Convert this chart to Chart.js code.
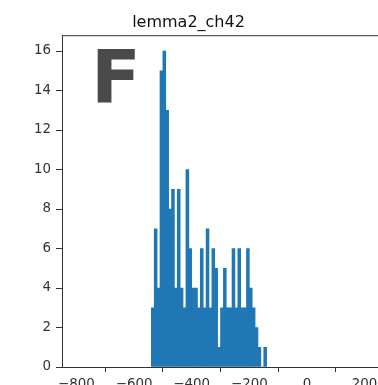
<!DOCTYPE html>
<html>
<head>
<meta charset="utf-8">
<script src="https://cdn.jsdelivr.net/npm/chart.js@4.4.1/dist/chart.umd.min.js"></script>
<style>
  html, body { margin: 0; padding: 0; background: #fff; overflow: hidden; }
  #wrap { position: relative; width: 378px; height: 385px; }
</style>
</head>
<body>
<div id="wrap"><canvas id="hist"></canvas></div>
<script>
// histogram bins: left edges (width 10) and counts
const binStart = -540;
const binWidth = 10;
const counts = [3, 7, 4, 15, 16, 13, 8, 9, 4, 9,
                4, 3, 10, 6, 4, 4, 3, 6, 3, 7,
                3, 6, 5, 1, 3, 5, 3, 3, 6, 3,
                6, 3, 3, 6, 4, 3, 2, 1, 0, 1];
const xTicks = [-800, -600, -400, -200, 0, 200];
const yTicks = [0, 2, 4, 6, 8, 10, 12, 14, 16];
const title = "lemma2_ch42";
const panelLetter = "F";

const points = counts.map((c, i) => ({ x: binStart + binWidth * (i + 0.5), y: c }));

const fmt = v => (v < 0 ? "\u2212" + Math.abs(v) : String(v));
const tickFont = { family: "DejaVu Sans", size: 13.4 };

// top spine and the panel letter (right spine falls at the picture edge)
const extras = {
  id: "extras",
  afterDraw(chart) {
    const { ctx, chartArea: a } = chart;
    ctx.save();
    ctx.strokeStyle = "#333";
    ctx.lineWidth = 1;
    ctx.beginPath();
    ctx.moveTo(a.left, a.top + 0.5);
    ctx.lineTo(a.right + 2, a.top + 0.5);
    ctx.stroke();
    ctx.fillStyle = "#4a4a4a";
    ctx.font = "bold 73px 'DejaVu Sans'";
    ctx.textBaseline = "alphabetic";
    ctx.fillText(panelLetter, 91, 103);
    ctx.restore();
  }
};

new Chart(document.getElementById("hist"), {
  type: "bar",
  data: {
    datasets: [{
      data: points,
      backgroundColor: "#1f77b4",
      borderWidth: 0,
      barPercentage: 1,
      categoryPercentage: 1
    }]
  },
  options: {
    responsive: true,
    maintainAspectRatio: false,
    animation: false,
    layout: { padding: { left: 0, right: 1, top: 0, bottom: 0 } },
    plugins: {
      legend: { display: false },
      tooltip: { enabled: false },
      title: {
        display: true,
        text: title,
        color: "#111",
        font: { family: "DejaVu Sans", size: 16, weight: "normal" },
        padding: { top: 13, bottom: 3 }
      }
    },
    scales: {
      x: {
        type: "linear",
        min: -850,
        max: 243,
        offset: false,
        afterBuildTicks: s => { s.ticks = xTicks.map(v => ({ value: v })); },
        afterFit: s => { s.height = 18; s.paddingLeft = 0; s.paddingRight = 0; },
        grid: { drawOnChartArea: false, tickLength: 5, color: "#333" },
        border: { color: "#333" },
        ticks: { color: "#333", font: tickFont, padding: 4, maxRotation: 0, autoSkip: false, callback: fmt }
      },
      y: {
        min: 0,
        max: 16.8,
        afterBuildTicks: s => { s.ticks = yTicks.map(v => ({ value: v })); },
        afterFit: s => { s.width = 62; s.paddingTop = 0; s.paddingBottom = 0; },
        grid: { drawOnChartArea: false, tickLength: 6, color: "#333" },
        border: { color: "#333" },
        ticks: { color: "#333", font: tickFont, padding: 5, callback: fmt }
      }
    }
  },
  plugins: [extras]
});
</script>
</body>
</html>
